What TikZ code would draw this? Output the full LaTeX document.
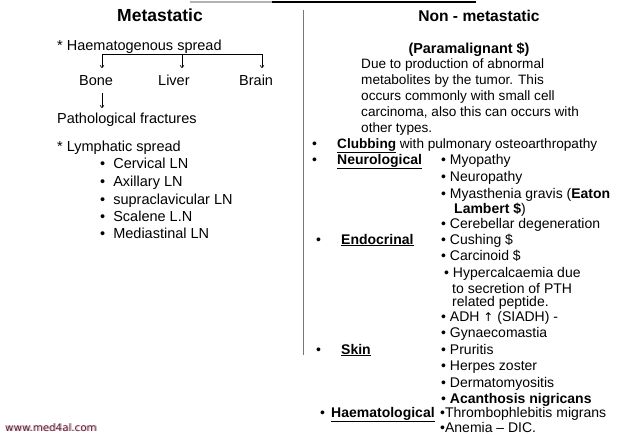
\documentclass[tikz,border=0pt]{standalone}
\usepackage{fontspec}
\setmainfont{Liberation Sans}
\newfontfamily\symf{DejaVu Sans}
\newfontfamily\wmf{DejaVu Sans}
\usetikzlibrary{arrows.meta}
\definecolor{wm}{RGB}{112,22,52}
\definecolor{rule}{RGB}{120,120,120}
\begin{document}
\begin{tikzpicture}[x=1pt,y=-1pt,
  ltxt/.style={anchor=base west,inner sep=0pt,font=\fontsize{14.5}{17}\selectfont},
  rtxt/.style={anchor=base west,inner sep=0pt,font=\fontsize{14}{16}\selectfont},
  ptxt/.style={anchor=base west,inner sep=0pt,align=left,font=\fontsize{13.6}{16}\selectfont},
  ttl/.style={anchor=base,inner sep=0pt,font=\fontsize{17.5}{20}\selectfont\bfseries},
  arr/.style={-{To[length=3pt,width=4.5pt]},line width=0.6pt},
  ]
\useasboundingbox[fill=white] (0,0) rectangle (640,434);
% top rule and divider
\draw[line width=1.4pt,gray!60] (190,2) -- (272,2);
\draw[line width=1.4pt] (272,2) -- (476,2);
\draw[rule,line width=0.8pt] (303,10) -- (303,355);

% ---------- left column ----------
\node[ttl] (met) at (160,21) {Metastatic};
\node[ltxt] (haem) at (57,50) {* Haematogenous spread};
\node[ltxt] (bone) at (79,85) {Bone};
\node[ltxt] (liver) at (158,85) {Liver};
\node[ltxt] (brain) at (239,85) {Brain};
\node[ltxt] (path) at (57,123) {Pathological fractures};
\coordinate (b0) at (102,54);
\coordinate (b1) at (182,54);
\coordinate (b2) at (262,54);
\draw[line width=0.6pt] (b0) -- (b2);
\draw[arr] (b0) -- (b0 |- 0,68);
\draw[arr] (b1) -- (b1 |- 0,68);
\draw[arr] (b2) -- (b2 |- 0,68);
\draw[arr] (bone.south -| b0) ++(0,8) -- (102,108);

\node[ltxt] (lym) at (57,151) {* Lymphatic spread};
\node[ltxt] (l1) at (100,168) {\textbullet\ \ Cervical LN};
\node[ltxt] (l2) at (100,186) {\textbullet\ \ Axillary LN};
\node[ltxt] (l3) at (100,204) {\textbullet\ \ supraclavicular LN};
\node[ltxt] (l4) at (100,221) {\textbullet\ \ Scalene L.N};
\node[ltxt] (l5) at (100,238) {\textbullet\ \ Mediastinal LN};

% ---------- right column ----------
\node[ttl,font=\fontsize{15.6}{18}\selectfont\bfseries] (non) at (479,21) {Non - metastatic};
\node[anchor=base,inner sep=0pt,font=\fontsize{14.4}{16}\selectfont\bfseries] (para) at (469,53) {(Paramalignant \$)};
\node[ptxt] (p1) at (361,68) {Due to production of abnormal};
\node[ptxt] (p2) at (361,84) {metabolites by the tumor. This};
\node[ptxt] (p3) at (361,100) {occurs commonly with small cell};
\node[ptxt] (p4) at (361,116) {carcinoma, also this can occurs with};
\node[ptxt] (p5) at (361,132) {other types.};

\node[rtxt] (cb) at (312,148) {\textbullet};
\node[rtxt,font=\fontsize{13.6}{16}\selectfont] (club) at (337,148) {\underline{\textbf{Clubbing}} with pulmonary osteoarthropathy};
\node[rtxt] (nb) at (312,164) {\textbullet};
\node[rtxt] (neuro) at (337,164) {\underline{\textbf{Neurological}}};
\node[rtxt] (n1) at (441,164) {\textbullet\ Myopathy};
\node[rtxt] (n2) at (441,181) {\textbullet\ Neuropathy};
\node[rtxt] (n3) at (441,198) {\textbullet\ Myasthenia gravis (\textbf{Eaton}};
\node[rtxt] (n3b) at (454,213) {\textbf{Lambert \$})};
\node[rtxt] (n4) at (441,228) {\textbullet\ Cerebellar degeneration};

\node[rtxt] (eb) at (316,244) {\textbullet};
\node[rtxt] (endo) at (341,244) {\underline{\textbf{Endocrinal}}};
\node[rtxt] (e1) at (441,244) {\textbullet\ Cushing \$};
\node[rtxt] (e2) at (441,260) {\textbullet\ Carcinoid \$};
\node[rtxt] (e3) at (444,277) {\textbullet\ Hypercalcaemia due};
\node[rtxt] (e3b) at (452,293) {to secretion of PTH};
\node[rtxt] (e3c) at (452,306) {related peptide.};
\node[rtxt] (e4) at (441,321) {\textbullet\ ADH {\symf\fontsize{12}{14}\selectfont ↑} (SIADH) -};
\node[rtxt] (e5) at (441,337) {\textbullet\ Gynaecomastia};

\node[rtxt] (sb) at (316,354) {\textbullet};
\node[rtxt] (skin) at (341,354) {\underline{\textbf{Skin}}};
\node[rtxt] (s1) at (441,354) {\textbullet\ Pruritis};
\node[rtxt] (s2) at (441,370) {\textbullet\ Herpes zoster};
\node[rtxt] (s3) at (441,387) {\textbullet\ Dermatomyositis};
\node[rtxt] (s4) at (441,403) {\textbullet\ \textbf{Acanthosis nigricans}};

\node[rtxt] (hb) at (320,417) {\textbullet};
\node[rtxt] (haema) at (331,417) {\underline{\textbf{Haematological}}};
\node[rtxt] (h1) at (440,417) {\textbullet Thrombophlebitis migrans};
\node[rtxt] (h2) at (440,432) {\textbullet Anemia -- DIC.};

% watermark
\node[anchor=base west,inner sep=0pt,font=\wmf\fontsize{10.3}{12}\selectfont,text=gray!50] at (6.2,431.8) {www.med4al.com};
\node[anchor=base west,inner sep=0pt,font=\wmf\fontsize{10.3}{12}\selectfont,text=wm] (wmk) at (5,431) {www.med4al.com};
\end{tikzpicture}
\end{document}
